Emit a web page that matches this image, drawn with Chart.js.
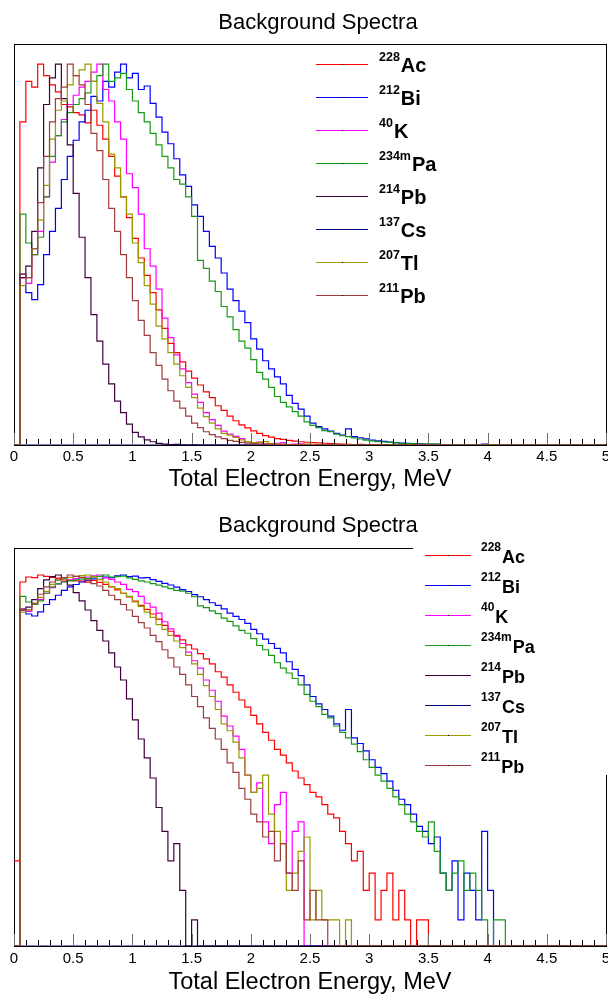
<!DOCTYPE html>
<html>
<head>
<meta charset="utf-8">
<script src="https://cdn.jsdelivr.net/npm/chart.js@4.4.1/dist/chart.umd.min.js"></script>
<style>
    body { margin: 0; background: #fff; }
    .pad { position: absolute; left: 0; width: 608px; }
</style>
</head>
<body>
<div class="pad" style="top:0; height:498px;"><canvas id="linear-chart"></canvas></div>
<div class="pad" style="top:498px; height:499px;"><canvas id="log-chart"></canvas></div>
<script>
// counts per 0.05 MeV bin, starting at 0 MeV
var binWidth = 0.05;
var energyTicks = [0, 0.5, 1, 1.5, 2, 2.5, 3, 3.5, 4, 4.5, 5];

var isotopes = ['Ac', 'Bi', 'K', 'Pa', 'Pb', 'Cs', 'Tl', 'Pb'];
var massNumbers = ['228', '212', '40', '234m', '214', '137', '207', '211'];
var lineColors = ['#ff0000', '#0000ff', '#ff00ff', '#189a18', '#400040', '#000080', '#999900', '#a03c3c'];

var ac228 = [4, 2800, 3150, 3100, 3300, 3200, 3120, 3060, 2950, 2930, 2880, 2860, 2790, 2900, 2770, 2650,
    2500, 2330, 2150, 1970, 1790, 1620, 1470, 1320, 1170, 1010, 880, 800, 720, 640, 580, 520, 460, 410,
    340, 300, 250, 210, 175, 148, 122, 100, 82, 68, 55, 48, 40, 33, 28, 24, 20, 18, 15, 12, 11, 8, 6, 4,
    5, 2, 3, 1, 2, 3, 1, 2, 1, 0, 1, 1];
var bi212 = [0, 1480, 1320, 1260, 1390, 1650, 1850, 2050, 2300, 2500, 2640, 2800, 2900, 3020, 2980, 3150,
    3100, 3230, 3300, 3180, 3220, 3080, 3110, 2960, 2840, 2710, 2610, 2480, 2340, 2240, 2080, 1980, 1850,
    1720, 1620, 1490, 1350, 1250, 1160, 1060, 920, 830, 730, 660, 590, 530, 430, 360, 310, 250, 190, 160,
    140, 120, 100, 86, 140, 72, 63, 53, 43, 36, 31, 26, 21, 17, 15, 12, 9, 8, 6, 7, 3, 2, 4, 1, 3, 2, 1, 8, 2];
var k40 = [0, 1450, 1400, 1650, 1850, 2150, 2450, 2680, 2820, 2950, 3030, 3100, 3150, 3230, 3300, 3080,
    2980, 2800, 2650, 2350, 2230, 2000, 1700, 1550, 1350, 1100, 930, 780, 660, 540, 440, 370, 280, 220,
    170, 120, 95, 75, 55, 30, 20, 25, 10, 6, 15, 20, 3, 8, 10];
var pa234m = [0, 2000, 1750, 1650, 1800, 2150, 2500, 2680, 2800, 2880, 2950, 3000, 3050, 3150, 3200, 3300,
    3150, 3180, 3220, 3080, 2980, 2880, 2800, 2700, 2600, 2500, 2400, 2300, 2260, 2150, 1980, 1600, 1530,
    1420, 1330, 1200, 1110, 1000, 900, 840, 740, 630, 570, 500, 420, 370, 330, 290, 250, 200, 170, 150,
    125, 115, 95, 82, 72, 62, 52, 43, 36, 30, 26, 22, 18, 15, 12, 10, 8, 7, 10, 5, 3, 2, 3, 4, 2, 3, 2,
    1, 0, 1, 1];
var pb214 = [0, 1450, 1550, 1850, 2400, 2950, 3180, 3300, 3000, 2600, 2180, 1800, 1450, 1130, 900, 700,
    530, 380, 280, 180, 110, 70, 45, 28, 14, 8, 4, 6, 2, 0, 1];
var cs137 = [];
var tl207 = [0, 1380, 1450, 1700, 1950, 2250, 2650, 2900, 2980, 3120, 3200, 3250, 3300, 3150, 2960, 2800,
    2520, 2400, 2150, 2000, 1750, 1580, 1380, 1220, 1030, 920, 800, 700, 600, 500, 410, 320, 245, 190,
    140, 100, 85, 65, 45, 30, 20, 22, 30, 12, 8, 6, 2, 3, 5, 7, 1, 2, 1, 1, 1, 0, 1];
var pb211 = [0, 1480, 1450, 1700, 2100, 2500, 2800, 3000, 3100, 3300, 3200, 3120, 2950, 2700, 2550, 2300,
    2050, 1850, 1650, 1450, 1250, 1080, 950, 800, 690, 570, 470, 380, 320, 250, 190, 150, 115, 90, 70,
    55, 40, 32, 22, 17, 12, 10, 7, 8, 4, 6, 3, 2, 4, 1, 2, 1, 1];

var spectra = [ac228, bi212, k40, pa234m, pb214, cs137, tl207, pb211];
var fontFamily = "'Liberation Sans', Arial, Helvetica, sans-serif";

function histPoints(counts, floor) {
    var pts = counts.map(function (c, i) {
        return {x: i * binWidth, y: c > 0 ? c : floor};
    });
    pts.push({x: counts.length * binWidth, y: floor});
    pts.push({x: 5, y: floor});
    return pts;
}

function makeDatasets(floor) {
    return spectra.map(function (counts, i) {
        return {
            label: massNumbers[i] + isotopes[i],
            data: histPoints(counts, floor),
            borderColor: lineColors[i],
            borderWidth: 1.2,
            pointRadius: 0,
            stepped: 'before',
            tension: 0,
            fill: false,
            order: spectra.length - i
        };
    });
}

var framePlugin = {
    id: 'rootFrame',
    beforeDatasetsDraw: function (chart) {
        var a = chart.chartArea, ctx = chart.ctx;
        ctx.save();
        ctx.strokeStyle = '#000';
        ctx.lineWidth = 1;
        ctx.strokeRect(a.left + 0.5, a.top + 0.5, a.right - a.left, a.bottom - a.top);
        ctx.restore();
    },
    afterDatasetsDraw: function (chart, args, o) {
        var ctx = chart.ctx, a = chart.chartArea, xs = chart.scales.x;
        ctx.save();
        // inward ticks on the energy axis
        ctx.lineWidth = 1;
        for (var k = 0; k <= 50; k++) {
            var px = Math.round(xs.getPixelForValue(k / 10)) + 0.5;
            var major = k % 5 === 0;
            ctx.strokeStyle = major ? '#707070' : '#000';
            ctx.beginPath();
            ctx.moveTo(px, a.bottom - 1);
            ctx.lineTo(px, a.bottom - (major ? 12 : 6));
            ctx.stroke();
        }
        if (o.box) {
            ctx.fillStyle = '#fff';
            ctx.fillRect(o.box[0], o.box[1], o.box[2], o.box[3]);
        }
        isotopes.forEach(function (sym, i) {
            var y = o.y + i * o.gap;
            ctx.strokeStyle = lineColors[i];
            ctx.lineWidth = 1.2;
            ctx.beginPath();
            ctx.moveTo(o.x, y + 0.5);
            ctx.lineTo(o.x + o.len, y + 0.5);
            ctx.stroke();
            ctx.fillStyle = '#000';
            ctx.fillRect(Math.round(o.x + o.len / 2), y, 1, 1);
            ctx.textBaseline = 'alphabetic';
            ctx.textAlign = 'left';
            ctx.font = 'bold ' + o.small + 'px ' + fontFamily;
            ctx.fillText(massNumbers[i], o.textX, y + o.supOffset);
            var w = ctx.measureText(massNumbers[i]).width;
            ctx.font = 'bold ' + o.big + 'px ' + fontFamily;
            ctx.fillText(sym, o.textX + w + 1, y + o.baseOffset);
        });
        // pad title
        ctx.fillStyle = '#000';
        ctx.font = '22px ' + fontFamily;
        ctx.textAlign = 'center';
        ctx.fillText('Background Spectra', 318, o.titleY);
        ctx.restore();
    }
};

function xAxis(height, titlePad, tickPad) {
    return {
        type: 'linear',
        min: 0,
        max: 5,
        grid: {display: false, drawTicks: false},
        border: {display: false},
        afterBuildTicks: function (scale) {
            scale.ticks = energyTicks.map(function (v) { return {value: v}; });
        },
        afterFit: function (scale) {
            scale.paddingLeft = 0;
            scale.paddingRight = 0;
            scale.height = height;
        },
        ticks: {
            autoSkip: false,
            maxRotation: 0,
            padding: tickPad,
            color: '#000',
            font: {size: 15, family: fontFamily},
            callback: function (v) { return String(v); }
        },
        title: {
            display: true,
            text: 'Total Electron Energy, MeV',
            color: '#000',
            font: {size: 23.5, family: fontFamily},
            padding: {top: 0, bottom: titlePad}
        }
    };
}

var floorLog = 0.541;

new Chart(document.getElementById('linear-chart'), {
    type: 'line',
    data: {datasets: makeDatasets(0)},
    options: {
        maintainAspectRatio: false,
        responsive: true,
        animation: false,
        events: [],
        layout: {padding: {left: 14, right: 2, top: 44, bottom: 0}},
        scales: {
            x: xAxis(53, 4, 3),
            y: {type: 'linear', display: false, min: 0, max: 3474}
        },
        plugins: {
            legend: {display: false},
            tooltip: {enabled: false},
            rootFrame: {x: 316, y: 64, len: 52, gap: 33, textX: 379, big: 20, small: 12.5,
                supOffset: -3.5, baseOffset: 8, box: null, titleY: 29}
        }
    },
    plugins: [framePlugin]
});

new Chart(document.getElementById('log-chart'), {
    type: 'line',
    data: {datasets: makeDatasets(floorLog)},
    options: {
        maintainAspectRatio: false,
        responsive: true,
        animation: false,
        events: [],
        layout: {padding: {left: 14, right: 2, top: 50, bottom: 0}},
        scales: {
            x: xAxis(51, 0, 4),
            y: {type: 'logarithmic', display: false, min: floorLog, max: 6224}
        },
        plugins: {
            legend: {display: false},
            tooltip: {enabled: false},
            rootFrame: {x: 425, y: 57, len: 46, gap: 30, textX: 481, big: 18, small: 12,
                supOffset: -4, baseOffset: 8, box: [413, 38, 195, 239], titleY: 34}
        }
    },
    plugins: [framePlugin]
});
</script>
</body>
</html>
